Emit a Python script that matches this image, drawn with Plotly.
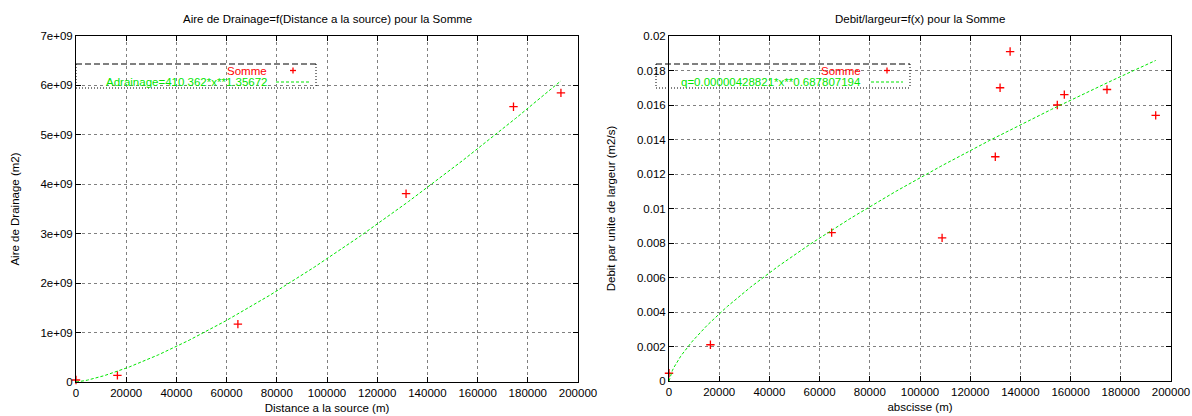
import numpy as np
import plotly.graph_objects as go

W, H = 1192, 416

# ---------------- data ----------------
dist_x = [0, 16500, 64500, 131500, 174300, 193200]
aire_y = [4e7, 1.35e8, 1.17e9, 3.81e9, 5.57e9, 5.85e9]

absc_x = [0, 16500, 64800, 108800, 130000, 131900, 135900, 154700, 157500, 174500, 193900]
debit_y = [0.00045, 0.0021, 0.0086, 0.0083, 0.0130, 0.0170, 0.0191, 0.0160, 0.0166, 0.0169, 0.0154]

# fitted power laws (as printed in the legends)
A_COEF, A_EXP = 410.362, 1.35672
Q_COEF, Q_EXP = 0.00000428821, 0.687807194

x_ticks = [0, 20000, 40000, 60000, 80000, 100000, 120000, 140000, 160000, 180000, 200000]
x_ticklabels = [str(v) for v in x_ticks]
left_y_ticks = [0, 1e9, 2e9, 3e9, 4e9, 5e9, 6e9, 7e9]
left_y_labels = ["0", "1e+09", "2e+09", "3e+09", "4e+09", "5e+09", "6e+09", "7e+09"]
right_y_ticks = [0, 0.002, 0.004, 0.006, 0.008, 0.01, 0.012, 0.014, 0.016, 0.018, 0.02]
right_y_labels = ["0", "0.002", "0.004", "0.006", "0.008", "0.01", "0.012", "0.014", "0.016", "0.018", "0.02"]

left_title = "Aire de Drainage=f(Distance a la source) pour la Somme"
right_title = "Debit/largeur=f(x) pour la Somme"
left_fit_label = "Adrainage=410.362*x**1.35672"
right_fit_label = "q=0.00000428821*x**0.687807194"

fit_xa = np.linspace(0, max(dist_x), 300)
fit_ya = A_COEF * fit_xa ** A_EXP
fit_xq = np.linspace(0, max(absc_x), 300)
fit_yq = Q_COEF * fit_xq ** Q_EXP

FONT = "Liberation Sans, Arial, sans-serif"
FS = 11.5
RED = "#ff0000"
GREEN = "#00e600"

def px(x):
    return x / W

def py(y):
    return 1 - y / H

fig = go.Figure()

fig.add_trace(go.Scatter(x=dist_x, y=aire_y, mode="markers", name="Somme",
                         marker=dict(symbol="cross-thin", size=6, line=dict(color=RED, width=1.3)),
                         xaxis="x", yaxis="y", cliponaxis=False))
fig.add_trace(go.Scatter(x=fit_xa, y=fit_ya, mode="lines", name=left_fit_label,
                         line=dict(color=GREEN, width=1, dash="3px,2px"),
                         xaxis="x", yaxis="y"))
fig.add_trace(go.Scatter(x=absc_x, y=debit_y, mode="markers", name="Somme",
                         marker=dict(symbol="cross-thin", size=6, line=dict(color=RED, width=1.3)),
                         xaxis="x2", yaxis="y2", cliponaxis=False))
fig.add_trace(go.Scatter(x=fit_xq, y=fit_yq, mode="lines", name=right_fit_label,
                         line=dict(color=GREEN, width=1, dash="3px,2px"),
                         xaxis="x2", yaxis="y2"))

axis_common = dict(showline=True, linecolor="black", linewidth=1, mirror="ticks",
                   ticks="inside", ticklen=5, tickcolor="black", automargin=False,
                   showgrid=True, gridcolor="#808080", gridwidth=1, griddash="dot",
                   zeroline=False, tickfont=dict(family=FONT, size=FS, color="black"),
                   title_font=dict(family=FONT, size=FS, color="black"))

fig.update_layout(
    width=W, height=H,
    margin=dict(l=0, r=0, t=0, b=0, autoexpand=False),
    paper_bgcolor="white", plot_bgcolor="white",
    showlegend=False,
    font=dict(family=FONT, size=FS, color="black"),
    xaxis=dict(domain=[px(76), px(578)], range=[0, 200000], tickvals=x_ticks, ticktext=x_ticklabels,
               anchor="y", title=dict(text="Distance a la source (m)", standoff=6), **axis_common),
    yaxis=dict(domain=[py(382), py(36)], range=[0, 7e9], tickvals=left_y_ticks, ticktext=left_y_labels,
               anchor="x", title=dict(text="Aire de Drainage (m2)", standoff=18), **axis_common),
    xaxis2=dict(domain=[px(669), px(1171)], range=[0, 200000], tickvals=x_ticks, ticktext=x_ticklabels,
                anchor="y2", title=dict(text="abscisse (m)", standoff=6), **axis_common),
    yaxis2=dict(domain=[py(381), py(36)], range=[0, 0.02], tickvals=right_y_ticks, ticktext=right_y_labels,
                anchor="x2", title=dict(text="Debit par unite de largeur (m2/s)", standoff=18), **axis_common),
)

annotations = [
    dict(text=left_title, x=px(327), y=py(19), xref="paper", yref="paper", showarrow=False,
         xanchor="center", yanchor="middle", font=dict(family=FONT, size=FS, color="black")),
    dict(text=right_title, x=px(920), y=py(19), xref="paper", yref="paper", showarrow=False,
         xanchor="center", yanchor="middle", font=dict(family=FONT, size=FS, color="black")),
]
shapes = []

def add_key(x0, x1, text_right, plus_x, sample_x0, sample_x1, fit_label):
    y0, y1 = 64, 88
    ya, yb = 70.5, 82
    # box: dashed top, dotted other sides
    shapes.append(dict(type="line", xref="paper", yref="paper", x0=px(x0), x1=px(x1), y0=py(y0), y1=py(y0),
                       line=dict(color="black", width=1, dash="6px,3px")))
    for (a, b, c, d) in [(x0, y1, x1, y1), (x0, y0, x0, y1), (x1, y0, x1, y1)]:
        shapes.append(dict(type="line", xref="paper", yref="paper", x0=px(a), x1=px(c), y0=py(b), y1=py(d),
                           line=dict(color="black", width=1, dash="1px,2px")))
    annotations.append(dict(text="Somme", x=px(text_right), y=py(ya), xref="paper", yref="paper",
                            showarrow=False, xanchor="right", yanchor="middle",
                            font=dict(family=FONT, size=FS, color=RED)))
    annotations.append(dict(text=fit_label, x=px(text_right), y=py(yb), xref="paper", yref="paper",
                            showarrow=False, xanchor="right", yanchor="middle",
                            font=dict(family=FONT, size=FS, color=GREEN)))
    shapes.append(dict(type="line", xref="paper", yref="paper", x0=px(plus_x - 3), x1=px(plus_x + 3),
                       y0=py(ya), y1=py(ya), line=dict(color=RED, width=1.3)))
    shapes.append(dict(type="line", xref="paper", yref="paper", x0=px(plus_x), x1=px(plus_x),
                       y0=py(ya - 3), y1=py(ya + 3), line=dict(color=RED, width=1.3)))
    shapes.append(dict(type="line", xref="paper", yref="paper", x0=px(sample_x0), x1=px(sample_x1),
                       y0=py(yb), y1=py(yb), line=dict(color=GREEN, width=1, dash="3px,2px")))

add_key(76, 316, 269, 293, 276, 309, left_fit_label)
add_key(656, 910, 863, 887, 871, 903, right_fit_label)

fig.update_layout(annotations=annotations, shapes=shapes)
fig.write_html("out.html", config={"displayModeBar": False},
               post_script="document.body.style.margin='0';document.body.style.padding='0';"
                           "document.body.style.overflow='hidden';")
